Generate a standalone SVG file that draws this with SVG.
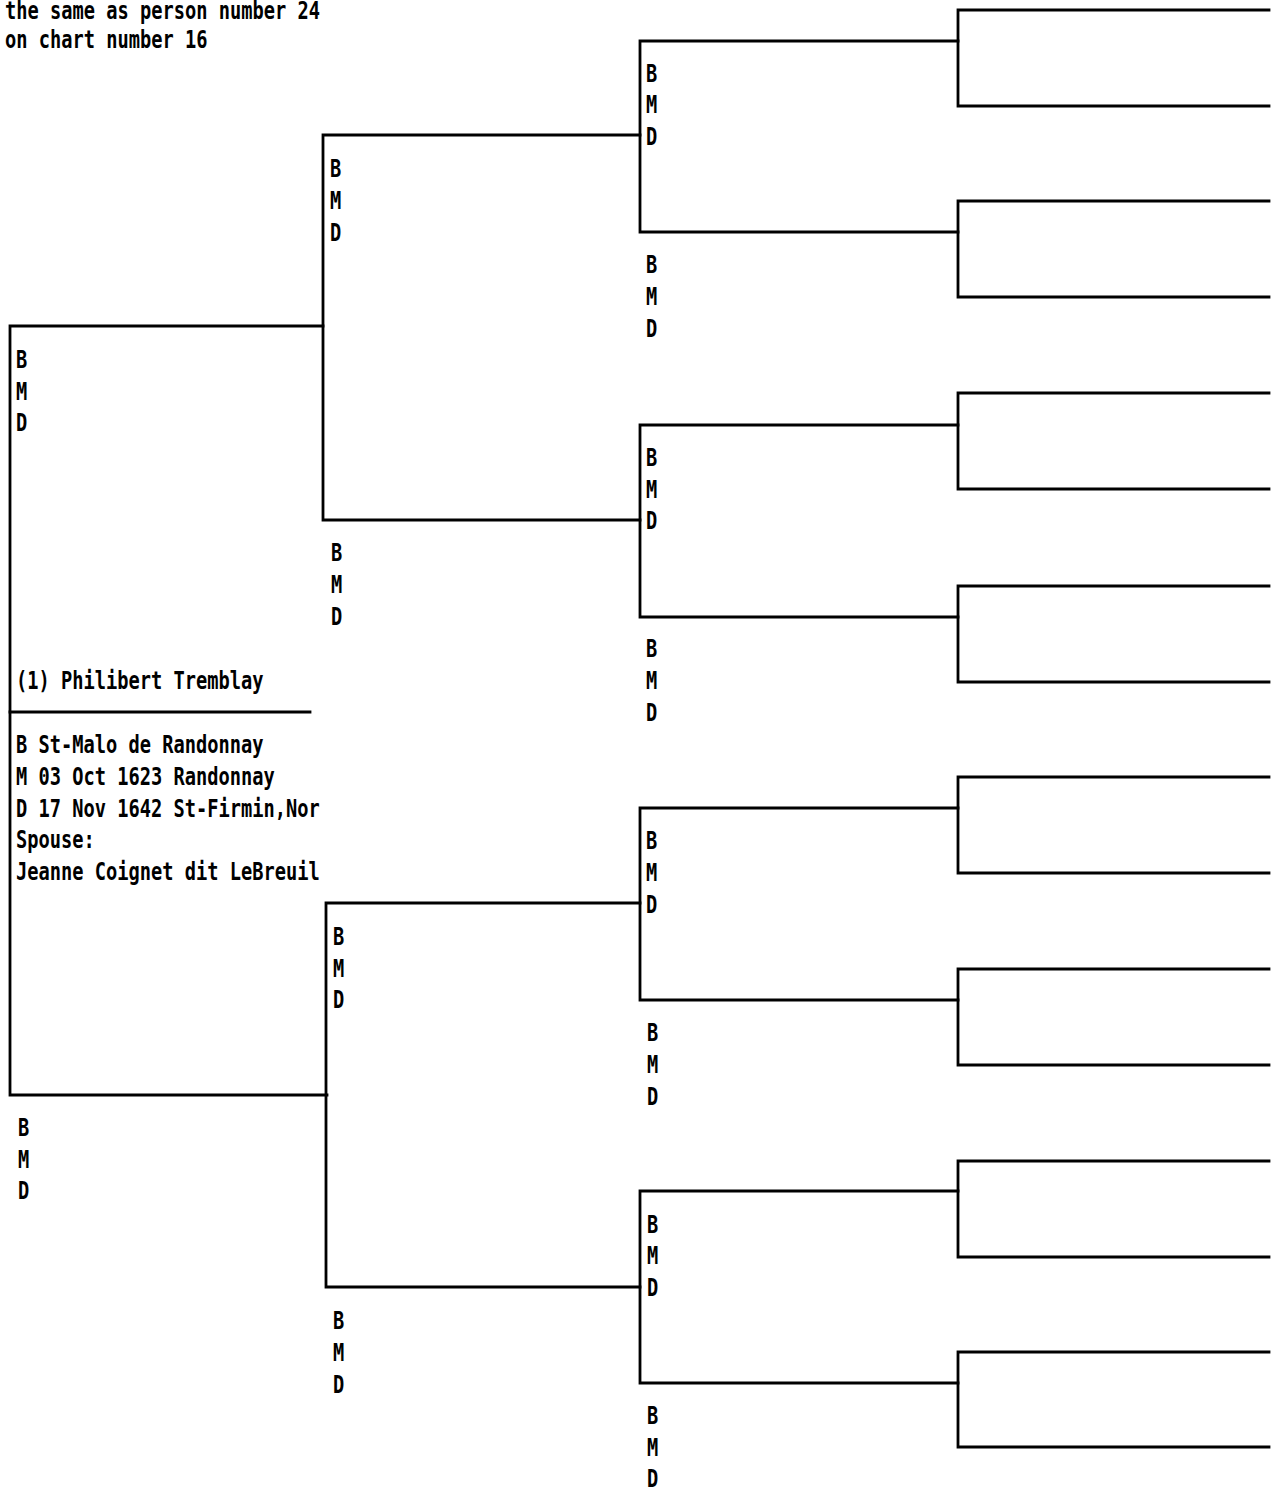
<svg xmlns="http://www.w3.org/2000/svg" width="1275" height="1491" viewBox="0 0 1275 1491">
<style>
.t{font-family:"DejaVu Sans Mono","Liberation Mono",monospace;font-size:18.7px;font-weight:bold;fill:#000}
.c{stroke:#000;stroke-width:2.8;fill:none;stroke-linecap:square}
</style>
<rect width="1275" height="1491" fill="#fff"/>
<g id="connectors">
<path class="c" d="M323 326 H10 V1095 H327"/>
<path class="c" d="M10 712 H310"/>
<path class="c" d="M640 135 H323 V520 H640"/>
<path class="c" d="M640 903 H326 V1287 H640"/>
<path class="c" d="M958 41 H640 V232 H958"/>
<path class="c" d="M958 425 H640 V617 H958"/>
<path class="c" d="M958 808 H640 V1000 H958"/>
<path class="c" d="M958 1191 H640 V1383 H958"/>
<path class="c" d="M1269 10 H958 V106 H1269"/>
<path class="c" d="M1269 201 H958 V297 H1269"/>
<path class="c" d="M1269 393 H958 V489 H1269"/>
<path class="c" d="M1269 586 H958 V682 H1269"/>
<path class="c" d="M1269 777 H958 V873 H1269"/>
<path class="c" d="M1269 969 H958 V1065 H1269"/>
<path class="c" d="M1269 1161 H958 V1257 H1269"/>
<path class="c" d="M1269 1352 H958 V1447 H1269"/>
</g>
<g id="note">
<text class="t" transform="translate(5 19) scale(1 1.3)">the same as person number 24</text>
<text class="t" transform="translate(5 48) scale(1 1.3)">on chart number 16</text>
</g>
<g id="person1">
<text class="t" transform="translate(16 689) scale(1 1.3)">(1) Philibert Tremblay</text>
<text class="t" transform="translate(16 753) scale(1 1.3)">B St-Malo de Randonnay</text>
<text class="t" transform="translate(16 785) scale(1 1.3)">M 03 Oct 1623 Randonnay</text>
<text class="t" transform="translate(16 817) scale(1 1.3)">D 17 Nov 1642 St-Firmin,Nor</text>
<text class="t" transform="translate(16 848) scale(1 1.3)">Spouse:</text>
<text class="t" transform="translate(16 880) scale(1 1.3)">Jeanne Coignet dit LeBreuil</text>
</g>
<g id="person2">
<text class="t" transform="translate(16 368) scale(1 1.3)">B</text>
<text class="t" transform="translate(16 400) scale(1 1.3)">M</text>
<text class="t" transform="translate(16 431) scale(1 1.3)">D</text>
</g>
<g id="person3">
<text class="t" transform="translate(18 1136) scale(1 1.3)">B</text>
<text class="t" transform="translate(18 1168) scale(1 1.3)">M</text>
<text class="t" transform="translate(18 1199) scale(1 1.3)">D</text>
</g>
<g id="person4">
<text class="t" transform="translate(330 177) scale(1 1.3)">B</text>
<text class="t" transform="translate(330 209) scale(1 1.3)">M</text>
<text class="t" transform="translate(330 241) scale(1 1.3)">D</text>
</g>
<g id="person5">
<text class="t" transform="translate(331 561) scale(1 1.3)">B</text>
<text class="t" transform="translate(331 593) scale(1 1.3)">M</text>
<text class="t" transform="translate(331 625) scale(1 1.3)">D</text>
</g>
<g id="person6">
<text class="t" transform="translate(333 945) scale(1 1.3)">B</text>
<text class="t" transform="translate(333 977) scale(1 1.3)">M</text>
<text class="t" transform="translate(333 1008) scale(1 1.3)">D</text>
</g>
<g id="person7">
<text class="t" transform="translate(333 1329) scale(1 1.3)">B</text>
<text class="t" transform="translate(333 1361) scale(1 1.3)">M</text>
<text class="t" transform="translate(333 1393) scale(1 1.3)">D</text>
</g>
<g id="person8">
<text class="t" transform="translate(646 82) scale(1 1.3)">B</text>
<text class="t" transform="translate(646 113) scale(1 1.3)">M</text>
<text class="t" transform="translate(646 145) scale(1 1.3)">D</text>
</g>
<g id="person9">
<text class="t" transform="translate(646 273) scale(1 1.3)">B</text>
<text class="t" transform="translate(646 305) scale(1 1.3)">M</text>
<text class="t" transform="translate(646 337) scale(1 1.3)">D</text>
</g>
<g id="person10">
<text class="t" transform="translate(646 466) scale(1 1.3)">B</text>
<text class="t" transform="translate(646 498) scale(1 1.3)">M</text>
<text class="t" transform="translate(646 529) scale(1 1.3)">D</text>
</g>
<g id="person11">
<text class="t" transform="translate(646 657) scale(1 1.3)">B</text>
<text class="t" transform="translate(646 689) scale(1 1.3)">M</text>
<text class="t" transform="translate(646 721) scale(1 1.3)">D</text>
</g>
<g id="person12">
<text class="t" transform="translate(646 849) scale(1 1.3)">B</text>
<text class="t" transform="translate(646 881) scale(1 1.3)">M</text>
<text class="t" transform="translate(646 913) scale(1 1.3)">D</text>
</g>
<g id="person13">
<text class="t" transform="translate(647 1041) scale(1 1.3)">B</text>
<text class="t" transform="translate(647 1073) scale(1 1.3)">M</text>
<text class="t" transform="translate(647 1105) scale(1 1.3)">D</text>
</g>
<g id="person14">
<text class="t" transform="translate(647 1233) scale(1 1.3)">B</text>
<text class="t" transform="translate(647 1264) scale(1 1.3)">M</text>
<text class="t" transform="translate(647 1296) scale(1 1.3)">D</text>
</g>
<g id="person15">
<text class="t" transform="translate(647 1424) scale(1 1.3)">B</text>
<text class="t" transform="translate(647 1456) scale(1 1.3)">M</text>
<text class="t" transform="translate(647 1487) scale(1 1.3)">D</text>
</g>
</svg>
